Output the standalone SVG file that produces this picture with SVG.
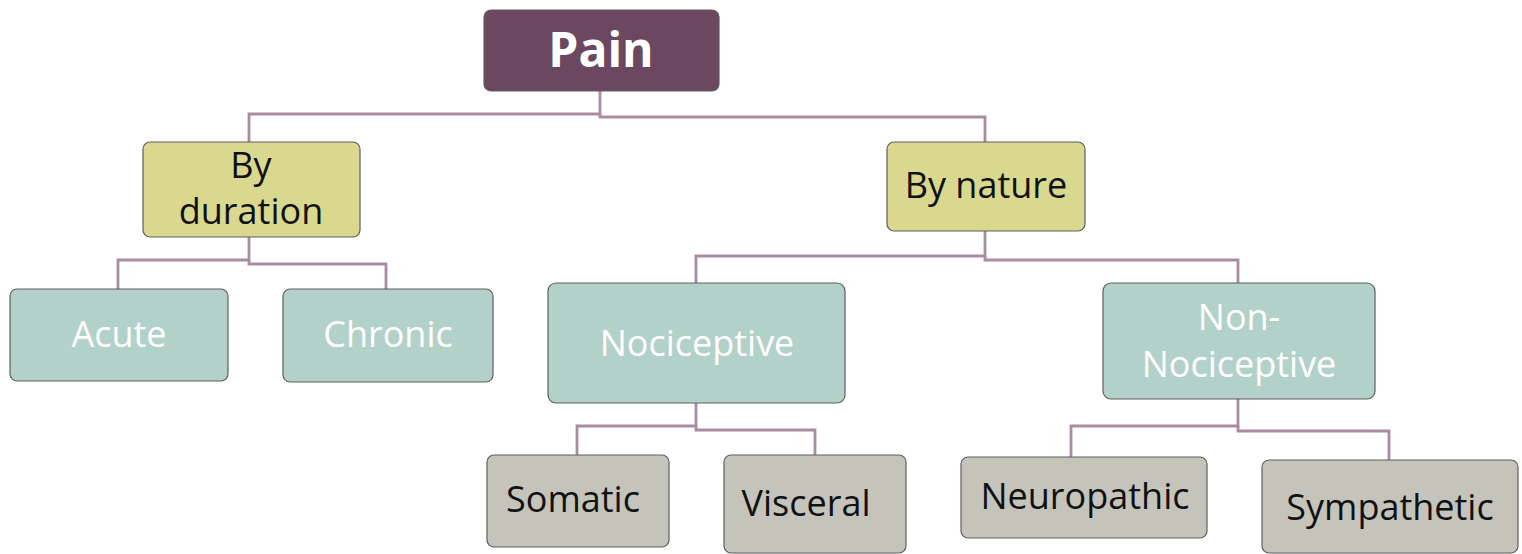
<svg xmlns="http://www.w3.org/2000/svg" width="1522" height="554" viewBox="0 0 1522 554">
<style>
.box{stroke:#5e5e5e;stroke-width:1.2}
.root{fill:#6b4860}
.l1{fill:#d9d88f}
.l2{fill:#b2d1c9}
.l3{fill:#c5c4bb}
text{font-family:"Open Sans","Liberation Sans",sans-serif;text-anchor:middle;font-size:36px}
.dark{fill:#111}
.light{fill:#ffffff}
.conn{fill:none;stroke:#aa8ca2;stroke-width:2.8}
</style>
<rect width="1522" height="554" fill="#ffffff"/>
<g id="connectors">
<path class="conn" d="M600,91 V114 H249 V142"/>
<path class="conn" d="M600,114 V117 H985 V142"/>
<path class="conn" d="M249,237 V260 H118 V289"/>
<path class="conn" d="M249,260 V264 H386 V289"/>
<path class="conn" d="M985,231 V256 H696 V283"/>
<path class="conn" d="M985,256 V260 H1238 V283"/>
<path class="conn" d="M696,403 V426 H577 V455"/>
<path class="conn" d="M696,426 V430 H815 V455"/>
<path class="conn" d="M1238,399 V426 H1071 V457"/>
<path class="conn" d="M1238,426 V431 H1389 V460"/>
</g>
<g id="pain">
<rect class="box root" x="484" y="10" width="235" height="81" rx="7"/>
<text x="601" y="67" class="light" style="font-size:48px;font-weight:bold">Pain</text>
</g>
<g id="by-duration">
<rect class="box l1" x="143" y="142" width="217" height="95" rx="7"/>
<text x="251" y="178" class="dark">By</text>
<text x="251" y="224" class="dark">duration</text>
</g>
<g id="by-nature">
<rect class="box l1" x="887" y="142" width="198" height="89" rx="7"/>
<text x="986" y="198" class="dark">By nature</text>
</g>
<g id="acute">
<rect class="box l2" x="10" y="289" width="218" height="92" rx="7"/>
<text x="119" y="347" class="light">Acute</text>
</g>
<g id="chronic">
<rect class="box l2" x="283" y="289" width="210" height="93" rx="7"/>
<text x="388" y="347" class="light">Chronic</text>
</g>
<g id="nociceptive">
<rect class="box l2" x="548" y="283" width="297" height="120" rx="8"/>
<text x="697" y="356" class="light">Nociceptive</text>
</g>
<g id="non-nociceptive">
<rect class="box l2" x="1103" y="283" width="272" height="116" rx="8"/>
<text x="1239" y="330" class="light">Non-</text>
<text x="1239" y="377" class="light">Nociceptive</text>
</g>
<g id="somatic">
<rect class="box l3" x="487" y="455" width="182" height="92" rx="7"/>
<text x="573" y="512" class="dark">Somatic</text>
</g>
<g id="visceral">
<rect class="box l3" x="724" y="455" width="182" height="98" rx="7"/>
<text x="806" y="516" class="dark">Visceral</text>
</g>
<g id="neuropathic">
<rect class="box l3" x="961" y="457" width="246" height="81" rx="7"/>
<text x="1085" y="509" class="dark">Neuropathic</text>
</g>
<g id="sympathetic">
<rect class="box l3" x="1262" y="460" width="256" height="93" rx="7"/>
<text x="1390" y="520" class="dark">Sympathetic</text>
</g>
</svg>
